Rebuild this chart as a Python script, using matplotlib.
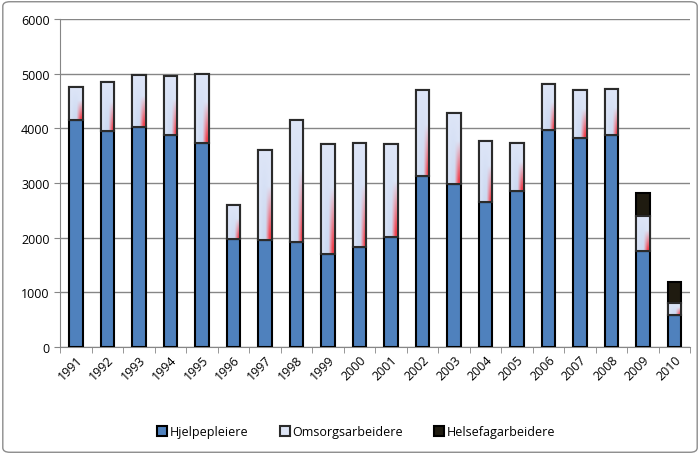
import matplotlib
matplotlib.use('Agg')
import matplotlib.pyplot as plt
import numpy as np
from matplotlib.patches import FancyBboxPatch

plt.rcParams['font.family'] = ['Open Sans', 'DejaVu Sans']

years = [str(y) for y in range(1991, 2011)]
hjelpepleiere = [4150, 3950, 4030, 3870, 3730, 1980, 1960, 1920, 1700, 1830,
                 2020, 3130, 2990, 2660, 2860, 3970, 3830, 3880, 1760, 580]
totals_omsorg = [4750, 4840, 4970, 4950, 4990, 2600, 3600, 4150, 3720, 3740,
                 3710, 4700, 4290, 3760, 3740, 4820, 4710, 4720, 2400, 800]
omsorgsarbeidere = [t - h for t, h in zip(totals_omsorg, hjelpepleiere)]
helsefagarbeidere = [0] * 18 + [410, 390]

blue = '#4f81bd'
light = '#dde4f4'
dark = '#1f1b10'

fig = plt.figure(figsize=(7, 4.56), dpi=100)
ax = fig.add_axes([0.086, 0.237, 0.9, 0.719])

x = np.arange(len(years))
w = 0.42

ax.bar(x, hjelpepleiere, w, color=blue, edgecolor='black', linewidth=1.5,
       label='Hjelpepleiere', zorder=3)
obars = ax.bar(x, omsorgsarbeidere, w, bottom=hjelpepleiere, color=light,
               edgecolor='#2b2b2b', linewidth=1.5, label='Omsorgsarbeidere', zorder=3)
ax.bar(x[18:], helsefagarbeidere[18:], w, bottom=totals_omsorg[18:], color=dark,
       edgecolor='black', linewidth=1.5, label='Helsefagarbeidere', zorder=3)

# gradient fill with red streak inside the Omsorgsarbeidere segments
nx, ny = 20, 60
gx = np.linspace(0, 1, nx)[None, :]
gy = np.linspace(0, 1, ny)[:, None]  # 0 bottom, 1 top
base = np.array([0.87, 0.90, 0.97])
mid = np.array([0.78, 0.84, 0.94])
t = np.exp(-((gx - 0.45) / 0.35) ** 2) * (1 - gy) * 0.8
img = np.ones((ny, nx, 4))
for c in range(3):
    img[:, :, c] = base[c] * (1 - t) + mid[c] * t
streak = np.clip((gx - 0.55) / 0.3, 0, 1) * np.clip(1 - (gy - 0.05) / 0.55, 0, 1)
red = np.array([0.95, 0.25, 0.3])
for c in range(3):
    img[:, :, c] = img[:, :, c] * (1 - streak) + red[c] * streak
for b in obars:
    x0, y0 = b.get_x(), b.get_y()
    im = ax.imshow(img, extent=[x0, x0 + b.get_width(), y0, y0 + b.get_height()],
                   origin='lower', aspect='auto', zorder=3.5, interpolation='bilinear')
    im.set_clip_path(b)
    ax.bar(x0 + b.get_width() / 2, b.get_height(), b.get_width(), bottom=y0,
           color='none', edgecolor='#2b2b2b', linewidth=1.5, zorder=4)

ax.set_xlim(-0.5, len(years) - 0.5)
ax.set_ylim(0, 6000)
ax.set_yticks(range(0, 6001, 1000))
ax.set_xticks(x)
ax.set_xticklabels(years, rotation=45, ha='right', rotation_mode='anchor', fontsize=9)
ax.tick_params(axis='y', labelsize=9, length=4, color='#868686')
ax.tick_params(axis='x', length=0, pad=4)
ax.set_xticks(np.arange(-0.5, len(years)), minor=True)
ax.tick_params(axis='x', which='minor', length=4, color='#868686')
ax.grid(axis='y', color='#868686', linewidth=1, zorder=0)
for s in ['top', 'right']:
    ax.spines[s].set_visible(False)
ax.spines['left'].set_color('#868686')
ax.spines['bottom'].set_color('#868686')

ax.legend(loc='upper center', bbox_to_anchor=(0.47, -0.205), ncol=3, frameon=False,
          fontsize=9, handlelength=0.8, handleheight=0.8, columnspacing=2.5,
          handletextpad=0.2)

border = FancyBboxPatch((0.004, 0.006), 0.992, 0.988, boxstyle='round,pad=0,rounding_size=0.01',
                        transform=fig.transFigure, facecolor='none', edgecolor='#8c8c8c',
                        linewidth=1)
fig.patches.append(border)

fig.savefig('out.png', dpi=100)
